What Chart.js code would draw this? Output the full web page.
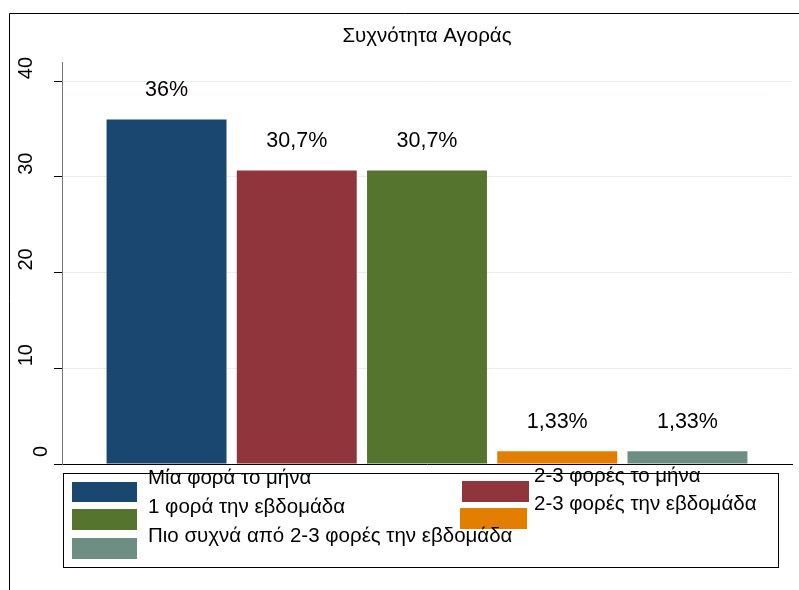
<!DOCTYPE html>
<html>
<head>
<meta charset="utf-8">
<script src="https://cdn.jsdelivr.net/npm/chart.js@4"></script>
<style>
  body { margin: 0; background: #fff; }
  #wrap { width: 799px; height: 590px; }
</style>
</head>
<body>
<div id="wrap"><canvas id="freqChart" width="799" height="590"></canvas></div>
<script>
// data
const seriesNames = [
  "Μία φορά το μήνα",
  "2-3 φορές το μήνα",
  "1 φορά την εβδομάδα",
  "2-3 φορές την εβδομάδα",
  "Πιο συχνά από 2-3 φορές την εβδομάδα",
];
const seriesValues = [36, 30.67, 30.67, 1.33, 1.33];
const barLabels = ["36%", "30,7%", "30,7%", "1,33%", "1,33%"];
const seriesColors = ["#1a476f", "#90353b", "#55752f", "#e37e00", "#6e8e84"];
const yTicks = [0, 10, 20, 30, 40];
const chartTitle = "Συχνότητα Αγοράς";

const FONT = "'Liberation Sans', Arial, sans-serif";

// frame, title, value labels, rotated y labels and the legend box
const stataBits = {
  id: "stataBits",
  beforeDraw(chart) {
    const c = chart.ctx;
    c.save();
    c.strokeStyle = "#000";
    c.lineWidth = 1;
    c.beginPath();
    c.moveTo(9.5, 590);
    c.lineTo(9.5, 13.5);
    c.lineTo(799, 13.5);
    c.stroke();
    c.restore();
  },
  afterDraw(chart) {
    const c = chart.ctx;
    const area = chart.chartArea;
    const y = chart.scales.y;
    c.save();
    c.fillStyle = "#000";

    // title
    c.font = "20.5px " + FONT;
    c.textAlign = "center";
    c.textBaseline = "middle";
    c.fillText(chartTitle, (area.left + area.right) / 2, 36);

    // labels above bars
    c.font = "21.5px " + FONT;
    c.textBaseline = "alphabetic";
    chart.data.datasets.forEach((ds, i) => {
      const bar = chart.getDatasetMeta(i).data[0];
      c.fillText(barLabels[i], bar.x, bar.y - 23);
    });

    // rotated y tick labels
    c.font = "20px " + FONT;
    c.textAlign = "left";
    yTicks.forEach(v => {
      const py = y.getPixelForValue(v);
      c.save();
      if (v === 0) c.translate(47, py - 7);
      else c.translate(32, py - 2);
      c.rotate(-Math.PI / 2);
      c.fillText(String(v), 0, 0);
      c.restore();
    });

    // legend
    c.strokeStyle = "#000";
    c.lineWidth = 1;
    c.strokeRect(63.5, 473.5, 715, 94);
    const sw = [
      [72, 482, 65, 20],
      [462, 481, 67, 21],
      [72, 509, 65, 21],
      [460, 508, 67, 21],
      [72, 538, 65, 21],
    ];
    const tx = [[148, 478], [534, 476], [148, 507], [534, 504], [148, 536]];
    c.font = "20.5px " + FONT;
    c.textBaseline = "middle";
    seriesNames.forEach((name, i) => {
      c.fillStyle = seriesColors[i];
      c.fillRect(sw[i][0], sw[i][1], sw[i][2], sw[i][3]);
      c.fillStyle = "#000";
      c.fillText(name, tx[i][0], tx[i][1]);
    });
    c.restore();
  },
};

new Chart(document.getElementById("freqChart"), {
  type: "bar",
  data: {
    labels: [""],
    datasets: seriesNames.map((name, i) => ({
      label: name,
      data: [seriesValues[i]],
      backgroundColor: seriesColors[i],
      borderWidth: 0,
      categoryPercentage: 0.892,
      barPercentage: 0.921,
    })),
  },
  options: {
    responsive: false,
    animation: false,
    devicePixelRatio: 1,
    layout: { padding: { left: 0, top: 62, right: 7, bottom: 126 } },
    plugins: {
      legend: { display: false },
      title: { display: false },
      tooltip: { enabled: false },
    },
    scales: {
      x: {
        grid: { display: false },
        border: { display: true, color: "#000", width: 1 },
        ticks: { display: false },
        afterFit: s => { s.height = 0; },
      },
      y: {
        min: 0,
        max: 42,
        afterBuildTicks: s => { s.ticks = yTicks.map(v => ({ value: v })); },
        afterFit: s => { s.width = 62; },
        ticks: { display: false },
        grid: {
          color: ctx => (ctx.tick && ctx.tick.value === 0 ? "rgba(0,0,0,0)" : "#e6eff2"),
          tickColor: "#000",
          tickLength: 8,
          lineWidth: 1,
        },
        border: { display: true, color: "#777", width: 1 },
      },
    },
  },
  plugins: [stataBits],
});
</script>
</body>
</html>
